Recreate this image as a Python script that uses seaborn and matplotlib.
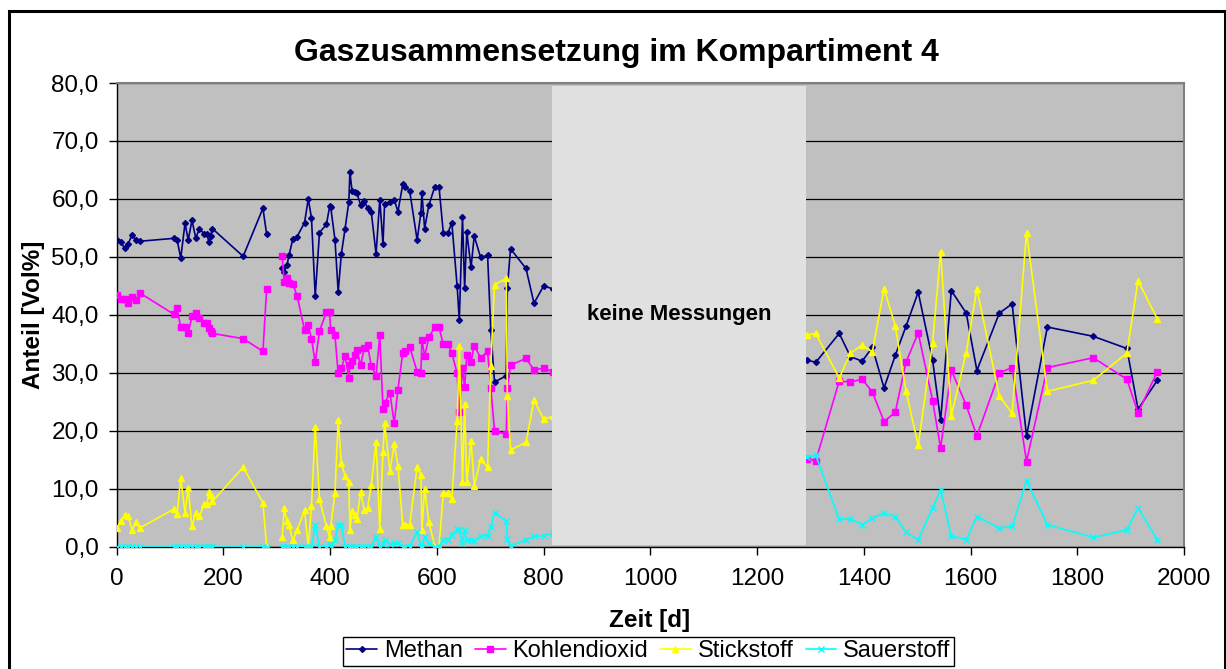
import numpy as np
import pandas as pd
import matplotlib
matplotlib.use("Agg")
import matplotlib.pyplot as plt
import seaborn as sns
from matplotlib.lines import Line2D
from matplotlib.patches import Rectangle
from matplotlib.ticker import FuncFormatter, FixedLocator

# ---------------- data ----------------
days = [1, 8, 15, 21, 29, 36, 43, 107, 113, 120, 128, 134, 141, 148, 155, 164, 169, 173, 176, 179, 237, 274, 281,
        310, 314, 319, 323, 330, 338, 352, 359, 365, 372,
        380, 393, 399, 401, 409, 415, 421, 428, 435, 437,
        441, 446, 450, 457, 464, 470, 477, 486, 493, 499,
        502, 512, 520, 527, 536, 541, 549, 563, 570, 572,
        577, 585, 596, 604, 612, 621, 628, 638, 642, 648,
        652, 656, 664, 670, 682, 695, 701, 708, 730, 732,
        738, 767, 782, 800, 817, 1294, 1310, 1354, 1375, 1397,
        1416, 1438, 1459, 1479, 1502, 1529, 1544, 1564, 1592, 1612,
        1654, 1678, 1705, 1744, 1830, 1893, 1914, 1950]

methan = [52.9, 52.5, 51.5, 52.2, 53.8, 52.9, 52.7, 53.2, 53.0, 49.8, 55.8, 52.9, 56.3, 53.3, 54.8, 54.0, 53.9, 52.5, 53.6, 54.9, 50.1, 58.4, 53.9,
          48.0, 47.4, 48.6, 50.3, 53.1, 53.5, 55.9, 60.0, 56.7, 43.2,
          54.2, 55.6, 58.7, 58.6, 53.0, 44.0, 50.5, 54.9, 59.5, 64.7,
          61.4, 61.2, 61.0, 59.0, 59.7, 58.4, 57.8, 50.5, 59.9, 52.2,
          59.2, 59.4, 59.9, 57.8, 62.5, 62.1, 61.4, 52.9, 57.6, 61.0,
          54.9, 58.9, 62.1, 62.1, 54.2, 54.2, 55.9, 44.9, 39.1, 56.8,
          44.6, 54.3, 48.2, 53.6, 49.9, 50.3, 37.4, 28.4, 29.5, 44.6,
          51.4, 48.0, 42.0, 45.0, 44.5, 32.2, 31.8, 36.8, 32.8, 32.0,
          34.4, 27.4, 33.0, 38.0, 43.9, 32.2, 21.8, 44.2, 40.3, 30.4,
          40.3, 41.9, 19.1, 37.9, 36.3, 34.2, 23.7, 28.7]

kohlendioxid = [43.4, 42.8, 42.7, 42.1, 43.0, 42.5, 43.8, 40.1, 41.1, 37.9, 37.9, 36.8, 39.8, 40.4, 39.5, 38.6, 38.6, 37.7, 37.2, 36.8, 35.9, 33.7, 44.5,
                50.1, 45.6, 46.3, 45.5, 45.3, 43.3, 37.4, 38.2, 35.9, 31.8,
                37.2, 40.5, 40.5, 37.4, 36.5, 29.9, 30.8, 32.9, 29.1, 31.3,
                32.1, 33.0, 33.9, 31.3, 34.3, 34.8, 31.2, 29.5, 36.5, 23.8,
                24.8, 26.5, 21.3, 27.1, 33.4, 33.8, 34.5, 30.2, 29.9, 35.7,
                32.9, 36.1, 37.9, 37.9, 34.9, 34.9, 33.4, 29.9, 23.3, 30.9,
                27.5, 33.0, 31.9, 34.7, 32.6, 33.7, 27.4, 20.0, 19.4, 27.4,
                31.3, 32.5, 30.5, 30.8, 30.2, 15.2, 14.8, 28.6, 28.4, 28.9,
                26.7, 21.6, 23.2, 31.8, 36.9, 25.2, 17.0, 30.5, 24.4, 19.1,
                30.0, 30.9, 14.7, 30.9, 32.6, 28.9, 23.1, 30.2]

stickstoff = [3.3, 4.5, 5.5, 5.3, 2.9, 4.3, 3.2, 6.5, 5.6, 11.8, 5.9, 10.1, 3.5, 5.9, 5.3, 7.4, 7.4, 9.4, 8.9, 7.8, 13.7, 7.6, 0.0,
              1.6, 6.6, 4.5, 3.7, 1.1, 2.8, 6.3, 0.0, 7.1, 20.7,
              8.2, 3.5, 1.6, 3.5, 9.2, 21.9, 14.4, 12.2, 11.1, 2.8,
              6.2, 5.5, 4.7, 9.4, 6.4, 6.6, 10.6, 18.0, 3.0, 16.4,
              21.3, 13.1, 17.7, 14.0, 3.8, 3.8, 3.8, 13.7, 12.3, 2.8,
              10.0, 4.3, 0.0, 0.0, 9.3, 9.3, 8.2, 21.7, 34.7, 11.1,
              24.7, 11.1, 18.3, 10.5, 15.1, 13.7, 31.2, 45.2, 46.3, 26.0,
              16.7, 18.0, 25.3, 22.0, 22.5, 36.5, 36.8, 29.1, 33.4, 34.8,
              33.6, 44.5, 38.1, 26.9, 17.5, 35.2, 50.9, 22.6, 33.5, 44.5,
              26.0, 23.0, 54.2, 26.8, 28.7, 33.4, 45.9, 39.3]

sauerstoff = [0.0] * 23 + [
              0.0, 0.0, 0.0, 0.0, 0.0, 0.0, 0.0, 0.0, 0.0, 3.7,
              0.0, 0.0, 0.5, 0.0, 1.1, 3.7, 3.7, 0.0, 0.0, 0.0,
              0.0, 0.0, 0.0, 0.0, 0.0, 0.0, 0.0, 1.7, 0.0, 0.5,
              1.2, 0.4, 0.6, 0.6, 0.0, 0.0, 0.0, 2.6, 0.0, 0.2,
              1.6, 0.6, 0.0, 0.0, 1.2, 1.2, 2.1, 3.0, 2.8, 0.6,
              2.8, 1.1, 1.1, 0.9, 1.9, 1.9, 3.4, 5.9, 4.4, 1.4,
              0.1, 1.2, 1.8, 1.9, 2.3, 15.4, 15.8, 4.7, 4.8, 3.8,
              4.9, 5.8, 5.2, 2.5, 1.2, 6.7, 9.8, 1.9, 1.2, 5.2,
              3.2, 3.5, 11.4, 3.8, 1.6, 2.9, 6.7, 1.2]

gap_after_day = 281          # no connecting line between day 281 and day 310
gas_names = ["Methan", "Kohlendioxid", "Stickstoff", "Sauerstoff"]
gas_colors = ["#000080", "#FF00FF", "#FFFF00", "#00FFFF"]
gas_markers = ["D", "s", "^", "x"]
gas_marker_sizes = [3.0, 4.0, 4.6, 4.2]
x_ticks = list(range(0, 2001, 200))
y_ticks = list(range(0, 81, 10))
no_data_days = (815, 1292)
no_data_label = "keine Messungen"
title_text = "Gaszusammensetzung im Kompartiment 4"
x_label = "Zeit [d]"
y_label = "Anteil [Vol%]"

# ---------------- long-form table ----------------
series = [methan, kohlendioxid, stickstoff, sauerstoff]
rows = []
for name, vals in zip(gas_names, series):
    for d, v in zip(days, vals):
        rows.append({"Zeit": d, "Anteil": v, "Gas": name,
                     "Segment": 0 if d <= gap_after_day else 1})
df = pd.DataFrame(rows)

# ---------------- figure ----------------
sns.set_style("white")
plt.rcParams["font.family"] = ["Liberation Sans", "DejaVu Sans"]
plt.rcParams["text.color"] = "black"
plt.rcParams["axes.labelcolor"] = "black"
plt.rcParams["xtick.color"] = "black"
plt.rcParams["ytick.color"] = "black"

fig = plt.figure(figsize=(12.26, 6.69), dpi=100)
ax = fig.add_axes([0.0952, 0.1828, 0.8705, 0.6931])
ax.set_facecolor("#C0C0C0")

palette = dict(zip(gas_names, gas_colors))
sns.lineplot(data=df, x="Zeit", y="Anteil", hue="Gas",
             units="Segment", estimator=None, hue_order=gas_names,
             palette=palette, sort=False, legend=False, ax=ax,
             linewidth=1.2, zorder=3, marker="o")

style_by_color = {matplotlib.colors.to_hex(c): (m, s)
                  for c, m, s in zip(gas_colors, gas_markers, gas_marker_sizes)}
for ln in ax.lines:
    col = matplotlib.colors.to_hex(ln.get_color())
    m, s = style_by_color.get(col, ("o", 4))
    ln.set_marker(m)
    ln.set_markeredgecolor(col)
    ln.set_markerfacecolor(col)
    ln.set_markersize(s)
    ln.set_markeredgewidth(1.0)

# "no measurements" box
ax.add_patch(Rectangle((no_data_days[0], 0.3), no_data_days[1] - no_data_days[0], 79.2,
                       facecolor="#E1E1E1", edgecolor="none", zorder=5))
ax.text((no_data_days[0] + no_data_days[1]) / 2, 40, no_data_label,
        ha="center", va="center", fontsize=16, fontweight="bold",
        color="black", zorder=6)

ax.set_xlim(0, 2000)
ax.set_ylim(0, 80)
ax.xaxis.set_major_locator(FixedLocator(x_ticks))
ax.yaxis.set_major_locator(FixedLocator(y_ticks))
ax.yaxis.set_major_formatter(FuncFormatter(lambda v, p: f"{v:.1f}".replace(".", ",")))
ax.set_xlabel("")
ax.set_ylabel("")

ax.yaxis.grid(True, color="black", linewidth=0.9)
ax.xaxis.grid(False)
ax.set_axisbelow(True)

ax.tick_params(axis="both", direction="out", length=6, width=1, color="black",
               labelcolor="black", labelsize=17.5,
               bottom=True, left=True, top=False, right=False)
ax.tick_params(axis="x", pad=9)
ax.tick_params(axis="y", pad=7)

for side in ["top", "right"]:
    ax.spines[side].set_color("#808080")
    ax.spines[side].set_linewidth(1.5)
for side in ["left", "bottom"]:
    ax.spines[side].set_color("black")
    ax.spines[side].set_linewidth(1.0)

# texts
fig.text(0.503, 1 - 61 / 669, title_text, ha="center", va="baseline",
         fontsize=23, fontweight="bold", color="black")
fig.text(0.530, 1 - 627 / 669, x_label, ha="center", va="baseline",
         fontsize=17.5, fontweight="bold", color="black")
fig.text(0.027, 0.529, y_label, ha="center", va="center", rotation=90,
         fontsize=17.5, fontweight="bold", color="black")

# legend
handles = [Line2D([0], [0], color=c, marker=m, markersize=s, markeredgecolor=c,
                  markerfacecolor=c, linewidth=1.2)
           for c, m, s in zip(gas_colors, gas_markers, gas_marker_sizes)]
leg = fig.legend(handles, gas_names, loc="center", bbox_to_anchor=(0.529, 0.0265),
                 ncol=4, frameon=True, fancybox=False, edgecolor="black",
                 framealpha=1, fontsize=17, handlelength=1.3, handletextpad=0.3,
                 columnspacing=0.5, borderpad=0.15, borderaxespad=0,
                 labelcolor="black")
leg.get_frame().set_linewidth(1.0)

# outer chart frame
fig.add_artist(Rectangle((8.5 / 1226, -0.05), (1225 - 8.5) / 1226, 1.05 - 10.5 / 669,
                         transform=fig.transFigure, fill=False,
                         edgecolor="black", linewidth=2.2))

fig.savefig("out.png", dpi=100)
